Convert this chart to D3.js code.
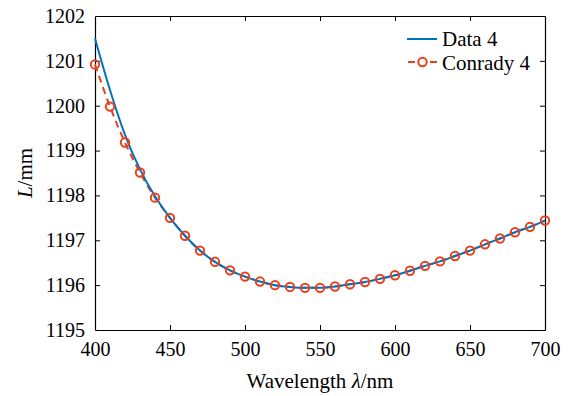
<!DOCTYPE html>
<html>
<head>
<meta charset="utf-8">
<script src="https://cdn.jsdelivr.net/npm/d3@7"></script>
<style>
  body { margin: 0; background: #fff; }
</style>
</head>
<body>
<div id="chart"></div>
<script>
// wavelengths (nm) for both series
const wavelengths = [400, 410, 420, 430, 440, 450, 460, 470, 480, 490, 500, 510, 520, 530, 540, 550,
  560, 570, 580, 590, 600, 610, 620, 630, 640, 650, 660, 670, 680, 690, 700];
// measured L (mm)
const data4 = [1201.50, 1200.35, 1199.35, 1198.58, 1197.98, 1197.50, 1197.10, 1196.77, 1196.52, 1196.33,
  1196.19, 1196.08, 1196.00, 1195.96, 1195.94, 1195.94, 1195.97, 1196.02, 1196.07, 1196.14,
  1196.22, 1196.32, 1196.43, 1196.53, 1196.65, 1196.77, 1196.91, 1197.04, 1197.18, 1197.30, 1197.44];
// Conrady fit L (mm)
const conrady4 = [1200.92, 1199.98, 1199.18, 1198.51, 1197.95, 1197.50, 1197.10, 1196.77, 1196.52, 1196.33,
  1196.19, 1196.08, 1196.00, 1195.96, 1195.94, 1195.94, 1195.97, 1196.02, 1196.07, 1196.14,
  1196.22, 1196.32, 1196.43, 1196.53, 1196.65, 1196.77, 1196.91, 1197.04, 1197.18, 1197.30, 1197.44];
const xTicks = [400, 450, 500, 550, 600, 650, 700];
const yTicks = [1195, 1196, 1197, 1198, 1199, 1200, 1201, 1202];
const seriesNames = ["Data 4", "Conrady 4"];

const width = 572, height = 396;
const margin = {top: 16, right: 27, bottom: 66, left: 95};
const innerWidth = width - margin.left - margin.right;
const innerHeight = height - margin.top - margin.bottom;
const blue = "#0072BD";
const orange = "#E8401C";
const serif = "Liberation Serif";

const svg = d3.select("#chart")
  .append("svg")
  .attr("width", width)
  .attr("height", height);

const innerChart = svg.append("g")
  .attr("transform", `translate(${margin.left}, ${margin.top})`);

const xScale = d3.scaleLinear().domain([400, 700]).range([0, innerWidth]);
const yScale = d3.scaleLinear().domain([1195, 1202]).range([innerHeight, 0]);

// axes, ticks pointing inward, box on all four sides
const axisStyle = g => {
  g.select(".domain").attr("stroke", "#000").attr("stroke-width", 1.2);
  g.selectAll(".tick line").attr("stroke", "#000").attr("stroke-width", 1);
  g.selectAll(".tick text")
    .attr("font-family", serif)
    .attr("font-size", 20)
    .attr("fill", "#000");
};

innerChart.append("g")
  .attr("transform", `translate(0, ${innerHeight})`)
  .call(d3.axisBottom(xScale).tickValues(xTicks).tickFormat(d3.format("d"))
    .tickSizeInner(-5).tickSizeOuter(0).tickPadding(12))
  .call(axisStyle);

innerChart.append("g")
  .call(d3.axisTop(xScale).tickValues(xTicks).tickSizeInner(-5).tickSizeOuter(0).tickFormat(""))
  .call(axisStyle);

innerChart.append("g")
  .call(d3.axisLeft(yScale).tickValues(yTicks).tickFormat(d3.format("d"))
    .tickSizeInner(-5).tickSizeOuter(0).tickPadding(10))
  .call(axisStyle);

innerChart.append("g")
  .attr("transform", `translate(${innerWidth}, 0)`)
  .call(d3.axisRight(yScale).tickValues(yTicks).tickSizeInner(-5).tickSizeOuter(0).tickFormat(""))
  .call(axisStyle);

// remove the end ticks that sit on the box corners
innerChart.selectAll(".tick").filter(d => d === 400 || d === 700 || d === 1195 || d === 1202)
  .select("line").remove();

// lines
const line = d3.line()
  .x((d, i) => xScale(wavelengths[i]))
  .y(d => yScale(d))
  .curve(d3.curveMonotoneX);

innerChart.append("path")
  .datum(conrady4)
  .attr("d", line)
  .attr("fill", "none")
  .attr("stroke", orange)
  .attr("stroke-width", 2)
  .attr("stroke-dasharray", "7,5");

innerChart.append("path")
  .datum(data4)
  .attr("d", line)
  .attr("fill", "none")
  .attr("stroke", blue)
  .attr("stroke-width", 2);

innerChart.selectAll("circle.marker")
  .data(conrady4)
  .join("circle")
  .attr("class", "marker")
  .attr("cx", (d, i) => xScale(wavelengths[i]))
  .attr("cy", d => yScale(d))
  .attr("r", 4.2)
  .attr("fill", "none")
  .attr("stroke", orange)
  .attr("stroke-width", 2);

// axis labels
svg.append("text")
  .attr("x", margin.left + innerWidth / 2)
  .attr("y", 388)
  .attr("text-anchor", "middle")
  .attr("font-family", serif)
  .attr("font-size", 21)
  .html('Wavelength <tspan font-style="italic">λ</tspan>/nm');

svg.append("text")
  .attr("transform", `translate(32, ${margin.top + innerHeight / 2}) rotate(-90)`)
  .attr("text-anchor", "middle")
  .attr("font-family", serif)
  .attr("font-size", 21)
  .html('<tspan font-style="italic">L</tspan>/mm');

// legend
const legend = svg.append("g");
legend.append("line")
  .attr("x1", 407).attr("x2", 437).attr("y1", 39).attr("y2", 39)
  .attr("stroke", blue).attr("stroke-width", 2);
legend.append("text").attr("x", 442).attr("y", 46)
  .attr("font-family", serif).attr("font-size", 21)
  .text(seriesNames[0]);

legend.append("line")
  .attr("x1", 408).attr("x2", 437).attr("y1", 62).attr("y2", 62)
  .attr("stroke", orange).attr("stroke-width", 2).attr("stroke-dasharray", "7,15,7");
legend.append("circle")
  .attr("cx", 422.5).attr("cy", 62).attr("r", 4.2)
  .attr("fill", "#fff").attr("stroke", orange).attr("stroke-width", 2);
legend.append("text").attr("x", 442).attr("y", 70)
  .attr("font-family", serif).attr("font-size", 21)
  .text(seriesNames[1]);
</script>
</body>
</html>
